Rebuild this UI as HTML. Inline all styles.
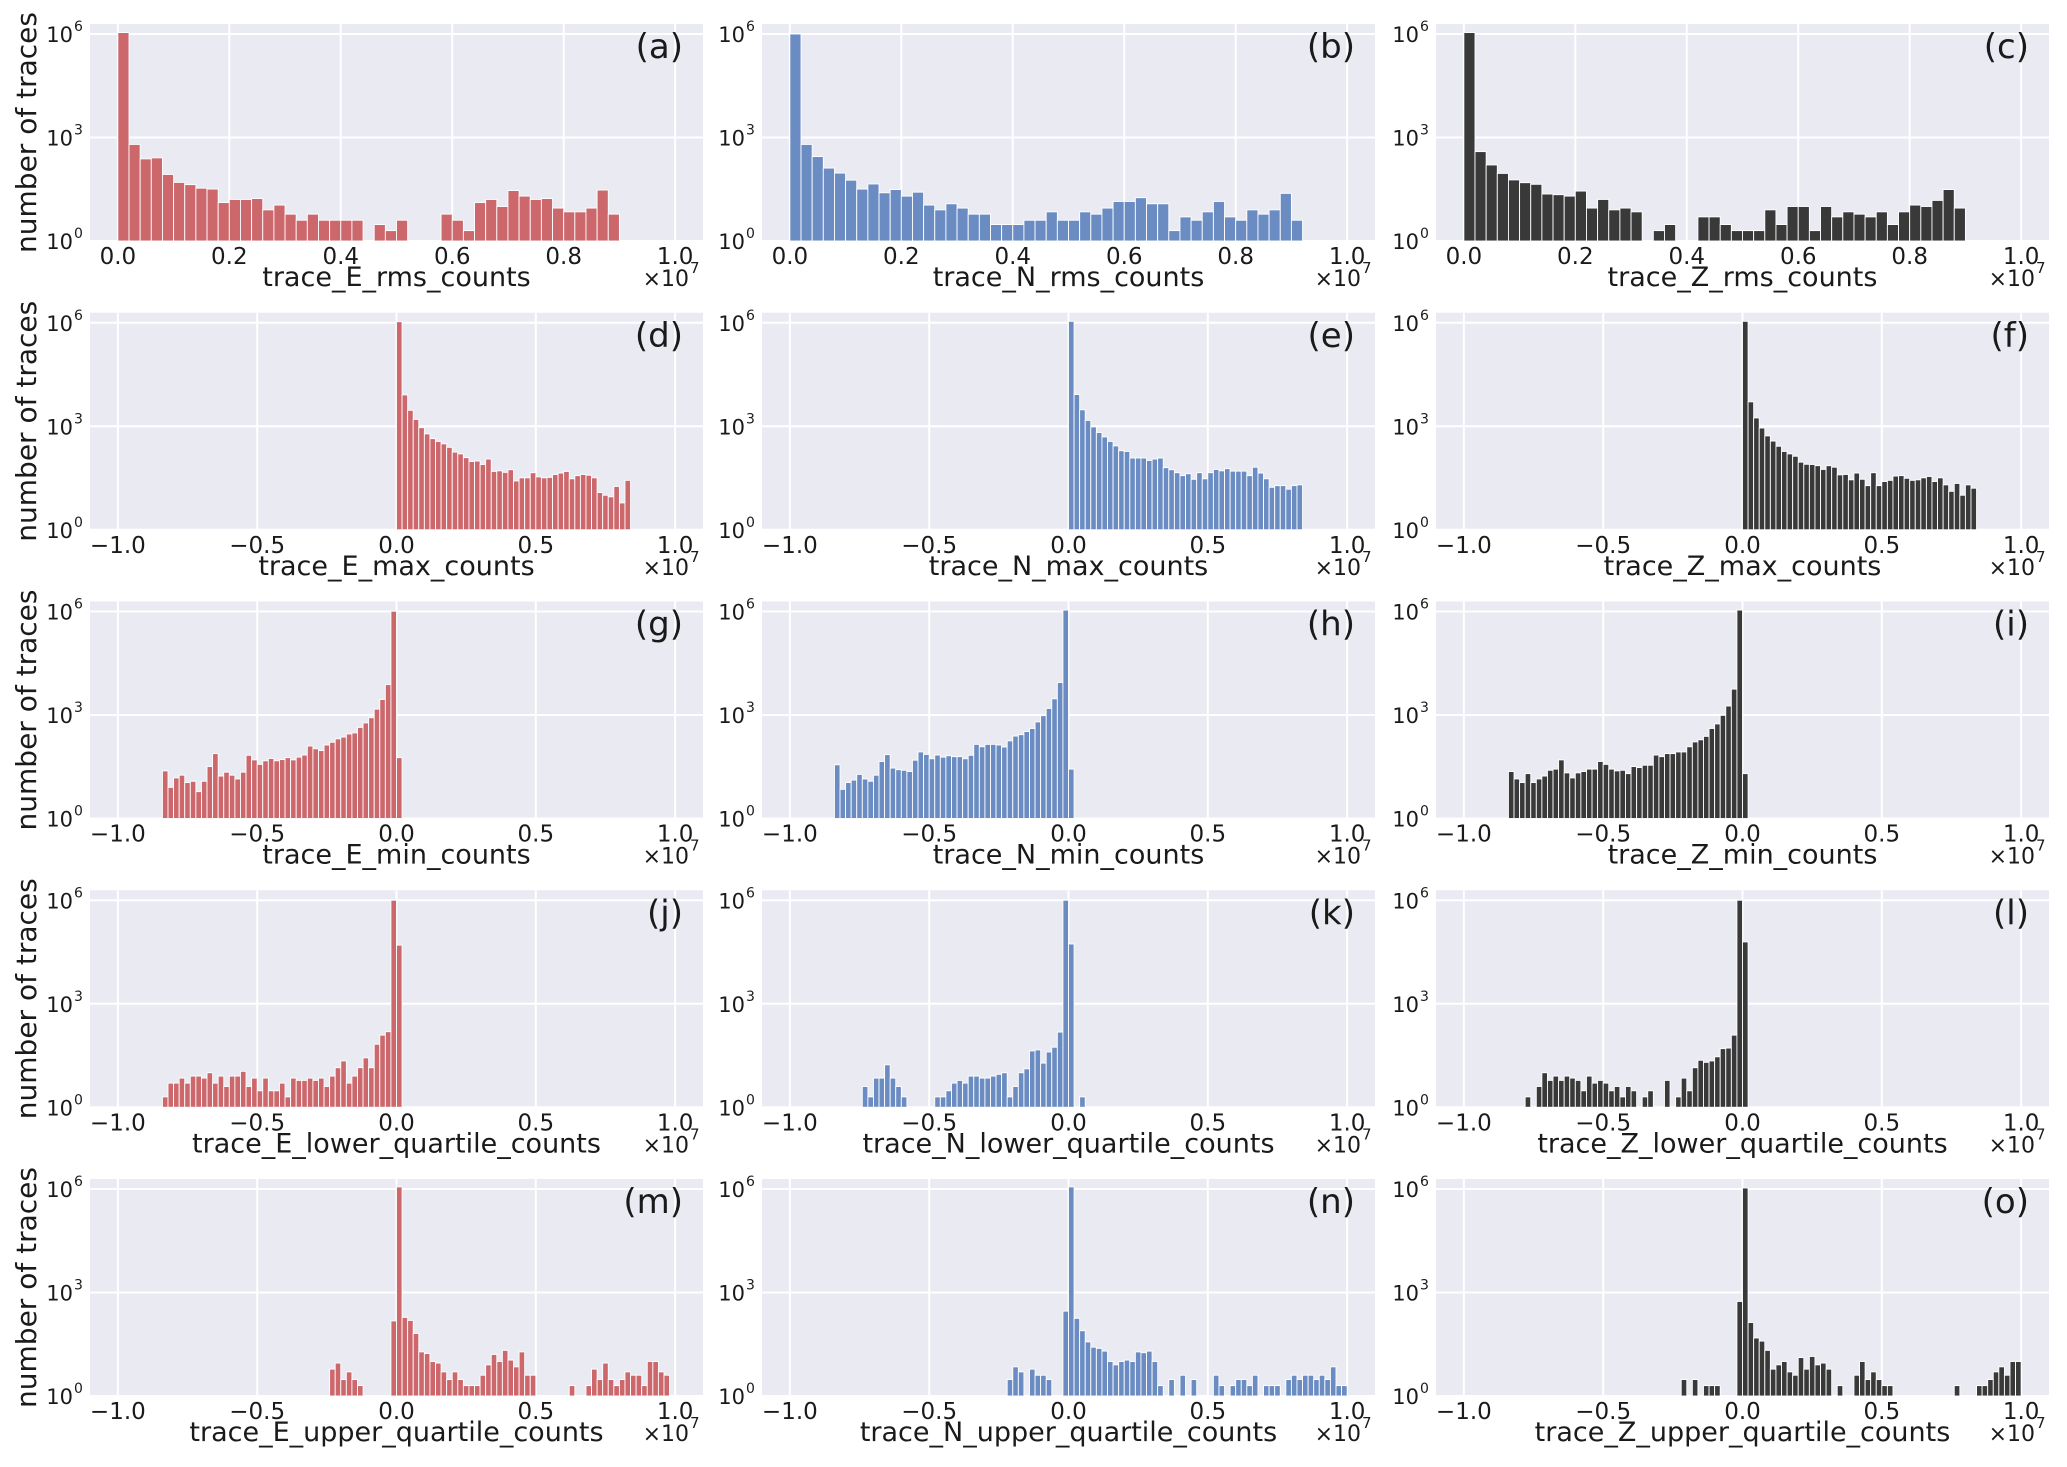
<!DOCTYPE html>
<html><head><meta charset="utf-8"><style>
html,body{margin:0;padding:0;background:#fff;}
svg{display:block;}
text{font-family:"DejaVu Sans","Liberation Sans",sans-serif;fill:#1a1a1a;}
</style></head><body>
<svg id="fig" width="2067" height="1467" viewBox="0 0 2067 1467" xmlns="http://www.w3.org/2000/svg"></svg>
<script>
// ---- data (bin counts; bins of width 0.02 ×1e7) ----
const countsA=[1100000,630,240,257,85,50,43,34,32,13,16,16,17,8,11,6,4,6,4,4,4,4,0,3,2,4,0,0,0,6,4,2,13,16,10,29,20,16,17,9,7,7,9,30,6];
const countsB=[1000000,630,280,130,93,58,32,45,25,31,20,26,11,8,12,9,6,6,3,3,3,4,4,7,4,4,7,6,9,14,14,18,12,12,2,5,4,7,14,5,4,8,6,8,24,4];
const countsC=[1100000,390,160,91,59,49,44,23,22,20,28,9,16,8,9,7,0,2,3,0,0,5,5,3,2,2,2,8,3,10,10,2,10,5,7,6,5,7,3,7,11,10,15,31,9];
const countsD=[1070000,8100,2900,1580,910,600,437,363,309,245,178,158,123,95,98,78,112,49,51,46,55,26,32,32,45,34,32,33,40,44,49,30,37,40,38,32,12,10,9,18,6,27];
const countsE=[1100000,8300,3000,1480,955,660,490,363,269,195,186,120,120,120,102,112,120,63,55,45,37,42,29,45,30,45,56,51,59,50,50,50,37,65,44,30,17,19,19,15,19,20];
const countsF=[1100000,5100,1740,890,525,372,263,186,158,135,91,79,78,72,56,72,65,39,40,28,44,29,19,45,19,25,27,36,37,31,27,28,32,35,25,32,20,13,22,10,20,16];
const countsG=[24,8,15,18,11,12,6,12,32,76,17,22,18,14,22,68,50,37,47,55,47,51,58,50,60,69,126,105,93,135,162,204,229,282,302,437,589,832,1480,2820,7590,1020000,58];
const countsH=[36,7,11,13,19,14,12,18,45,71,29,26,25,23,49,85,72,54,69,60,66,62,62,54,68,141,120,141,141,135,118,178,245,269,331,407,631,955,1550,2950,8710,1100000,27];
const countsI=[23,14,11,20,11,14,17,25,27,50,21,15,21,23,27,27,45,37,27,24,25,20,32,30,35,35,69,62,76,76,85,85,120,166,191,240,407,550,977,1820,5620,1100000,20];
const countsJ=[2,5,5,7,5,8,8,7,10,5,8,4,8,8,11,4,7,3,7,3,3,5,2,7,6,6,7,6,7,4,8,14,22,5,8,14,27,14,67,123,155,1000000,50000];
const countsK=[4,2,7,7,17,7,4,2,0,0,0,0,0,2,2,3,5,6,5,8,8,7,7,8,9,10,2,4,10,13,43,46,19,40,55,151,1000000,54000,0,2];
const countsL=[2,0,4,10,6,8,6,8,7,6,3,8,5,6,5,3,4,2,4,3,0,2,3,0,0,6,0,2,7,3,14,23,20,22,29,50,52,123,1000000,62000];
const countsM=[6,9,3,5,3,2,0,0,0,0,0,150,1150000,190,155,65,19,17,10,9,5,3,5,3,2,2,2,4,8,16,10,21,11,7,19,4,4,0,0,0,0,0,0,2,0,0,2,6,3,9,3,2,3,5,4,4,2,10,10,5,4];
const countsN=[3,7,5,0,6,4,4,3,0,0,288,1150000,178,78,37,26,24,20,10,8,10,11,10,19,18,20,10,2,0,3,0,4,0,3,0,0,0,4,2,0,2,3,3,2,4,0,2,2,2,0,3,4,3,4,4,3,4,3,7,2,2];
const countsO=[3,0,3,0,2,2,2,0,0,0,550,1070000,135,48,39,21,6,8,10,5,4,13,6,14,8,9,6,0,2,0,0,4,10,3,5,3,2,2,0,0,0,0,0,0,0,0,0,0,0,2,0,0,0,2,2,3,5,7,4,10,10];
// first bin left edge (×1e7) per panel
const binStarts=[0,0,0, 0,0,0, -0.84,-0.84,-0.84, -0.84,-0.74,-0.78, -0.24,-0.22,-0.22];
const binWidth=0.02;
const rmsTicks=[0,0.2,0.4,0.6,0.8,1.0];
const rmsTickLabels=["0.0","0.2","0.4","0.6","0.8","1.0"];
const symTicks=[-1,-0.5,0,0.5,1];
const symTickLabels=["\u22121.0","\u22120.5","0.0","0.5","1.0"];
const yTicks=[0,3,6];
const xLabels=["trace_E_rms_counts","trace_N_rms_counts","trace_Z_rms_counts",
"trace_E_max_counts","trace_N_max_counts","trace_Z_max_counts",
"trace_E_min_counts","trace_N_min_counts","trace_Z_min_counts",
"trace_E_lower_quartile_counts","trace_N_lower_quartile_counts","trace_Z_lower_quartile_counts",
"trace_E_upper_quartile_counts","trace_N_upper_quartile_counts","trace_Z_upper_quartile_counts"];
const panelLetters=["a","b","c","d","e","f","g","h","i","j","k","l","m","n","o"];
const allCounts=[countsA,countsB,countsC,countsD,countsE,countsF,countsG,countsH,countsI,countsJ,countsK,countsL,countsM,countsN,countsO];

const colors=["#cc676c","#6a8cc2","#393939"];
const NS="http://www.w3.org/2000/svg";
const svg=document.getElementById('fig');
function mk(tag,attrs,parent){const e=document.createElementNS(NS,tag);for(const k in attrs)e.setAttribute(k,attrs[k]);parent.appendChild(e);return e;}

const colLeft=[90,762,1436], PW=613, PH=217, rowStep=288.75, top0=24, decade=34.5;

for(let p=0;p<15;p++){
  const r=Math.floor(p/3), c=p%3;
  const L=colLeft[c], T=top0+r*rowStep, B=T+PH, R=L+PW;
  const rms = r===0;
  const xmin = rms?-0.05:-1.1, xmax = rms?1.05:1.1;
  const xs = v => L + (v - xmin)/(xmax - xmin)*PW;
  const ys = e => B - e*decade;
  const g=mk('g',{},svg);
  
  
  const bg=mk('rect',{x:L,y:T,width:PW,height:PH,fill:'#eaeaf2'},g);
  
  
  const ticks = rms?rmsTicks:symTicks, tl = rms?rmsTickLabels:symTickLabels;
  ticks.forEach((t,i)=>{
    const x=xs(t);
    const gl=mk('line',{x1:x,x2:x,y1:T,y2:B,stroke:'#fff','stroke-width':2},g);
    
    
    const tx=mk('text',{x:x,y:B+23,'font-size':23,'text-anchor':'middle'},g);
    tx.textContent=tl[i];
    
    
  });
  yTicks.forEach(e=>{
    const y=ys(e);
    const gl=mk('line',{x1:L,x2:R,y1:y,y2:y,stroke:'#fff','stroke-width':2},g);
    
    
    const tx=mk('text',{x:L-17,y:y+8,'font-size':21,'text-anchor':'end'},g);
    tx.textContent='10';
    
    
    const sp=mk('text',{x:L-16,y:y-3,'font-size':14,'text-anchor':'start'},g);
    sp.textContent=String(e);
    
    
  });
  const counts=allCounts[p], st=binStarts[p];
  counts.forEach((v,i)=>{
    if(v<=1) return;
    const x0=xs(st+i*binWidth), x1=xs(st+(i+1)*binWidth);
    const y=ys(Math.log10(v));
    const b=mk('rect',{x:x0,y:y,width:x1-x0,height:B-y,fill:colors[c],stroke:'#fff','stroke-width':0.9},g);
    
    
  });
  const xl=mk('text',{x:(L+R)/2,y:B+45,'font-size':27,'text-anchor':'middle'},g);
  xl.textContent=xLabels[p];
  
  
  const off=mk('text',{x:R-14,y:B+45,'font-size':22,'text-anchor':'end'},g);
  off.textContent='\u00d710';
  
  
  const offe=mk('text',{x:R-13,y:B+32,'font-size':15},g);
  offe.textContent='7';
  
  
  const pl=mk('text',{x:R-20,y:T+34,'font-size':34,'text-anchor':'end'},g);
  pl.textContent='('+panelLetters[p]+')';
  
  
  if(c===0){
    const yl=mk('text',{x:0,y:0,'font-size':28,'text-anchor':'middle',transform:'translate(36,'+(T+PH/2)+') rotate(-90)'},g);
    yl.textContent='number of traces';
    
    
  }
}
</script>
</body></html>
